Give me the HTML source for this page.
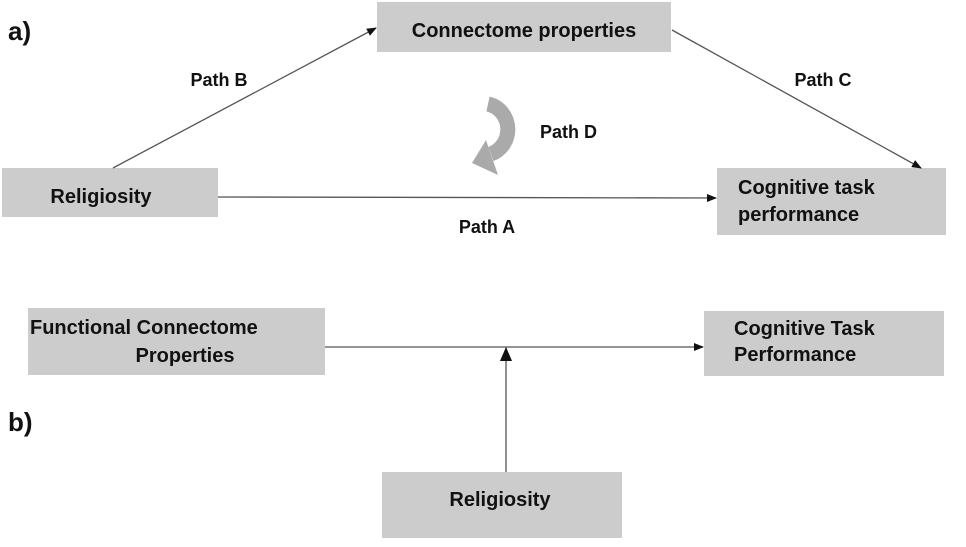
<!DOCTYPE html>
<html><head><style>
body{margin:0;background:#fff;}
svg text{font-family:"Liberation Sans",sans-serif;font-weight:bold;fill:#111;}
</style></head><body>
<svg width="966" height="542" viewBox="0 0 966 542" xmlns="http://www.w3.org/2000/svg">
<defs>
<marker id="ah" markerWidth="10" markerHeight="8" refX="9" refY="4" orient="auto" markerUnits="userSpaceOnUse">
<path d="M0,0 L10,4 L0,8 z" fill="#111"/>
</marker>
<marker id="ahb" markerWidth="14" markerHeight="12" refX="13" refY="6" orient="auto" markerUnits="userSpaceOnUse">
<path d="M0,0 L14,6 L0,12 z" fill="#111"/>
</marker>
</defs>
<g fill="#cccccc">
<rect x="377" y="2" width="294" height="50"/>
<rect x="2" y="168" width="216" height="49"/>
<rect x="717" y="168" width="229" height="67"/>
<rect x="28" y="308" width="297" height="67"/>
<rect x="704" y="311" width="240" height="65"/>
<rect x="382" y="472" width="240" height="66"/>
</g>
<g stroke="#555" stroke-width="1.3" fill="none">
<line x1="113" y1="168" x2="376" y2="28" marker-end="url(#ah)"/>
<line x1="672" y1="30" x2="921" y2="168" marker-end="url(#ah)"/>
<line x1="218" y1="197" x2="716" y2="198" marker-end="url(#ah)"/>
<line x1="325" y1="347" x2="703" y2="347" marker-end="url(#ah)"/>
<line x1="506" y1="472" x2="506" y2="348" marker-end="url(#ahb)"/>
</g>
<path d="M488,104 A25,26 0 0 1 491,154" stroke="#aaaaaa" stroke-width="15" fill="none"/>
<path d="M486,140 L498,175 L472,163 z" fill="#aaaaaa"/>
<text x="8" y="40" font-size="26">a)</text>
<text x="8" y="431" font-size="26">b)</text>
<text x="524" y="37" font-size="20" text-anchor="middle">Connectome properties</text>
<text x="219" y="86" font-size="18" text-anchor="middle">Path B</text>
<text x="823" y="86" font-size="18" text-anchor="middle">Path C</text>
<text x="540" y="138" font-size="18">Path D</text>
<text x="487" y="233" font-size="18" text-anchor="middle">Path A</text>
<text x="101" y="203" font-size="20" text-anchor="middle">Religiosity</text>
<text x="738" y="194" font-size="20">Cognitive task</text>
<text x="738" y="221" font-size="20">performance</text>
<text x="30" y="334" font-size="20">Functional Connectome</text>
<text x="185" y="362" font-size="20" text-anchor="middle">Properties</text>
<text x="734" y="335" font-size="20">Cognitive Task</text>
<text x="734" y="361" font-size="20">Performance</text>
<text x="500" y="506" font-size="20" text-anchor="middle">Religiosity</text>
</svg>
</body></html>
